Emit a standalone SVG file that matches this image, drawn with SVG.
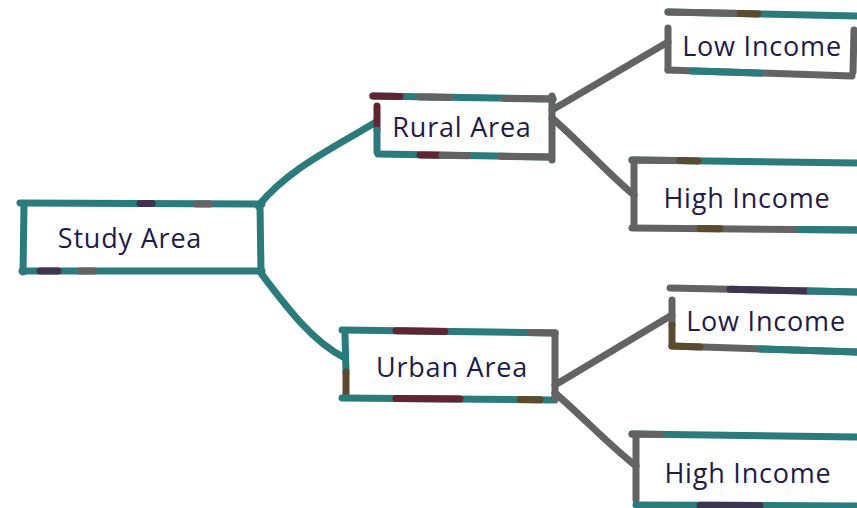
<svg xmlns="http://www.w3.org/2000/svg" width="857" height="508" viewBox="0 0 857 508">
<style>
  .s { fill: none; stroke-width: 7; stroke-linecap: round; stroke-linejoin: round; }
  .t { stroke: #2b7a7c; }
  .r { stroke: #5e2632; }
  .g { stroke: #636363; }
  .b { stroke: #5a4a2e; }
  .p { stroke: #3f3450; }
  .txt { font-family: "Open Sans", "Noto Sans", sans-serif; font-size: 27px; letter-spacing: 0.8px; fill: #1e1b4b; text-anchor: middle; }
</style>
<rect width="857" height="508" fill="#ffffff"/>
<g id="connectors">
  <path class="s t" d="M258 206 C 290 168, 330 150, 376 122"/>
  <path class="s t" d="M260 272 C 285 305, 312 342, 345 358"/>
  <path class="s g" d="M552 110 L668 42"/>
  <path class="s g" d="M552 118 C 580 142, 610 176, 634 195"/>
  <path class="s g" d="M555 385 L672 315"/>
  <path class="s g" d="M555 393 C 582 416, 610 446, 636 466"/>
</g>
<g id="study-area">
  <path class="s t" d="M20 203 L262 204"/>
  <path class="s p" d="M140 203.5 L152 203.5"/>
  <path class="s g" d="M196 204 L210 204"/>
  <path class="s t" d="M24 205 L23 272"/>
  <path class="s t" d="M22 271 L262 271"/>
  <path class="s p" d="M40 271 L58 271"/>
  <path class="s g" d="M80 271 L94 271"/>
  <path class="s t" d="M260 205 L261 272"/>
  <text class="txt" x="130" y="248">Study Area</text>
</g>
<g id="rural-area">
  <path class="s t" d="M373 96 L553 99"/>
  <path class="s r" d="M373 96 L400 96.5"/>
  <path class="s g" d="M420 97 L450 97.5"/>
  <path class="s g" d="M505 98.5 L553 99"/>
  <path class="s r" d="M377 106 L377 130"/>
  <path class="s t" d="M377 130 L377 152"/>
  <path class="s t" d="M378 154 L548 157"/>
  <path class="s r" d="M420 155 L440 155.3"/>
  <path class="s g" d="M442 155.3 L468 155.7"/>
  <path class="s g" d="M500 156.3 L548 157"/>
  <path class="s g" d="M552 96 L552 160"/>
  <text class="txt" x="462" y="137">Rural Area</text>
</g>
<g id="rural-low-income">
  <path class="s t" d="M668 12 L857 16"/>
  <path class="s g" d="M668 12 L740 13.5"/>
  <path class="s b" d="M740 13.5 L758 14"/>
  <path class="s g" d="M668 28 L668 70"/>
  <path class="s g" d="M668 70 L852 76"/>
  <path class="s t" d="M692 71 L760 73"/>
  <path class="s g" d="M854 30 L853 72"/>
  <text class="txt" x="762" y="56">Low Income</text>
</g>
<g id="rural-high-income">
  <path class="s t" d="M632 160 L857 163"/>
  <path class="s g" d="M632 160 L680 160.6"/>
  <path class="s b" d="M680 160.6 L698 161"/>
  <path class="s g" d="M634 162 L634 225"/>
  <path class="s g" d="M632 228 L857 230"/>
  <path class="s b" d="M700 228.6 L720 228.8"/>
  <path class="s t" d="M800 229.5 L857 230"/>
  <text class="txt" x="747" y="208">High Income</text>
</g>
<g id="urban-area">
  <path class="s t" d="M342 330 L555 333"/>
  <path class="s r" d="M396 330.8 L445 331.5"/>
  <path class="s g" d="M530 332.6 L555 333"/>
  <path class="s t" d="M345 335 L346 372"/>
  <path class="s b" d="M346 372 L346 396"/>
  <path class="s t" d="M342 398 L555 400"/>
  <path class="s r" d="M396 398.5 L460 399"/>
  <path class="s b" d="M520 399.6 L540 399.8"/>
  <path class="s g" d="M555 333 L555 398"/>
  <text class="txt" x="452" y="377">Urban Area</text>
</g>
<g id="urban-low-income">
  <path class="s g" d="M670 288 L857 292"/>
  <path class="s p" d="M730 289.3 L808 291"/>
  <path class="s t" d="M810 291 L857 292"/>
  <path class="s g" d="M672 300 L672 325"/>
  <path class="s b" d="M672 325 L672 345"/>
  <path class="s g" d="M672 346 L857 352"/>
  <path class="s b" d="M672 346 L700 347"/>
  <path class="s t" d="M760 349 L857 352"/>
  <text class="txt" x="766" y="331">Low Income</text>
</g>
<g id="urban-high-income">
  <path class="s t" d="M632 434 L857 437"/>
  <path class="s g" d="M632 434 L660 434.4"/>
  <path class="s g" d="M636 436 L636 500"/>
  <path class="s t" d="M636 505 L857 506"/>
  <path class="s p" d="M700 505.3 L760 505.6"/>
  <text class="txt" x="748" y="483">High Income</text>
</g>
</svg>
